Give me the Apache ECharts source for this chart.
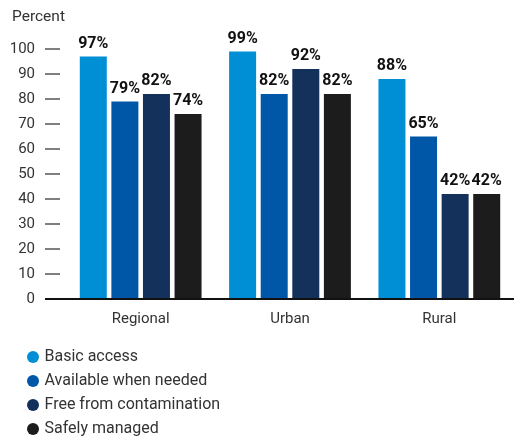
<!DOCTYPE html>
<html>
<head>
<meta charset="utf-8">
<script src="https://cdn.jsdelivr.net/npm/echarts@6/dist/echarts.min.js"></script>
<style>
  html, body { margin: 0; padding: 0; background: #fff; }
  #chart { width: 514px; height: 439px; }
</style>
</head>
<body>
<div id="chart"></div>
<script>
// Water service levels by area (percent of population)
const categories = ['Regional', 'Urban', 'Rural'];
const seriesNames = ['Basic access', 'Available when needed', 'Free from contamination', 'Safely managed'];
const basicAccess = [97, 99, 88];
const availableWhenNeeded = [79, 82, 65];
const freeFromContamination = [82, 92, 42];
const safelyManaged = [74, 82, 42];
const yTicks = [0, 10, 20, 30, 40, 50, 60, 70, 80, 90, 100];

const colors = ['#008fd5', '#0057a8', '#13315a', '#1c1c1c'];
const values = [basicAccess, availableWhenNeeded, freeFromContamination, safelyManaged];
const FONT = 'Roboto, "Liberation Sans", sans-serif';

const chart = echarts.init(document.getElementById('chart'), null, { renderer: 'canvas' });

const series = seriesNames.map((name, i) => ({
  name: name,
  type: 'bar',
  data: values[i],
  barWidth: 27,
  barGap: '17%',
  itemStyle: { color: colors[i] },
  label: {
    show: true,
    position: 'top',
    distance: 5,
    formatter: p => p.value + '%',
    fontFamily: FONT,
    fontWeight: 'bold',
    fontSize: 16,
    color: '#111'
  }
}));

chart.setOption({
  animation: false,
  textStyle: { fontFamily: FONT },
  title: {
    text: 'Percent',
    left: 7,
    top: 4,
    textStyle: { fontFamily: FONT, fontSize: 15.5, fontWeight: 'normal', color: '#333' }
  },
  grid: { left: 66, top: 49, width: 450, height: 250 },
  legend: {
    orient: 'vertical',
    left: 27,
    top: 349,
    padding: 0,
    height: 90,
    icon: 'circle',
    itemWidth: 13,
    itemHeight: 12,
    itemGap: 8,
    data: seriesNames,
    textStyle: { fontFamily: FONT, fontSize: 16, color: '#333' }
  },
  xAxis: {
    type: 'category',
    data: categories,
    axisLine: { show: false },
    axisTick: { show: false },
    axisLabel: { margin: 13, fontFamily: FONT, fontSize: 15, color: '#333' }
  },
  yAxis: {
    type: 'value',
    min: yTicks[0],
    max: yTicks[yTicks.length - 1],
    interval: 10,
    offset: 6,
    splitLine: { show: false },
    axisLine: { show: false },
    axisTick: { show: true, length: 15, lineStyle: { color: '#555', width: 1.5 } },
    axisLabel: { margin: 25, fontFamily: FONT, fontSize: 15, color: '#333' }
  },
  series: series
});

// Baseline running from the tick column to the right edge
const zeroY = chart.convertToPixel({ yAxisIndex: 0 }, 0);
chart.setOption({
  graphic: [{
    type: 'line',
    shape: { x1: 45, y1: zeroY, x2: 514, y2: zeroY },
    style: { stroke: '#111', lineWidth: 2 },
    z: 10
  }]
});
</script>
</body>
</html>
